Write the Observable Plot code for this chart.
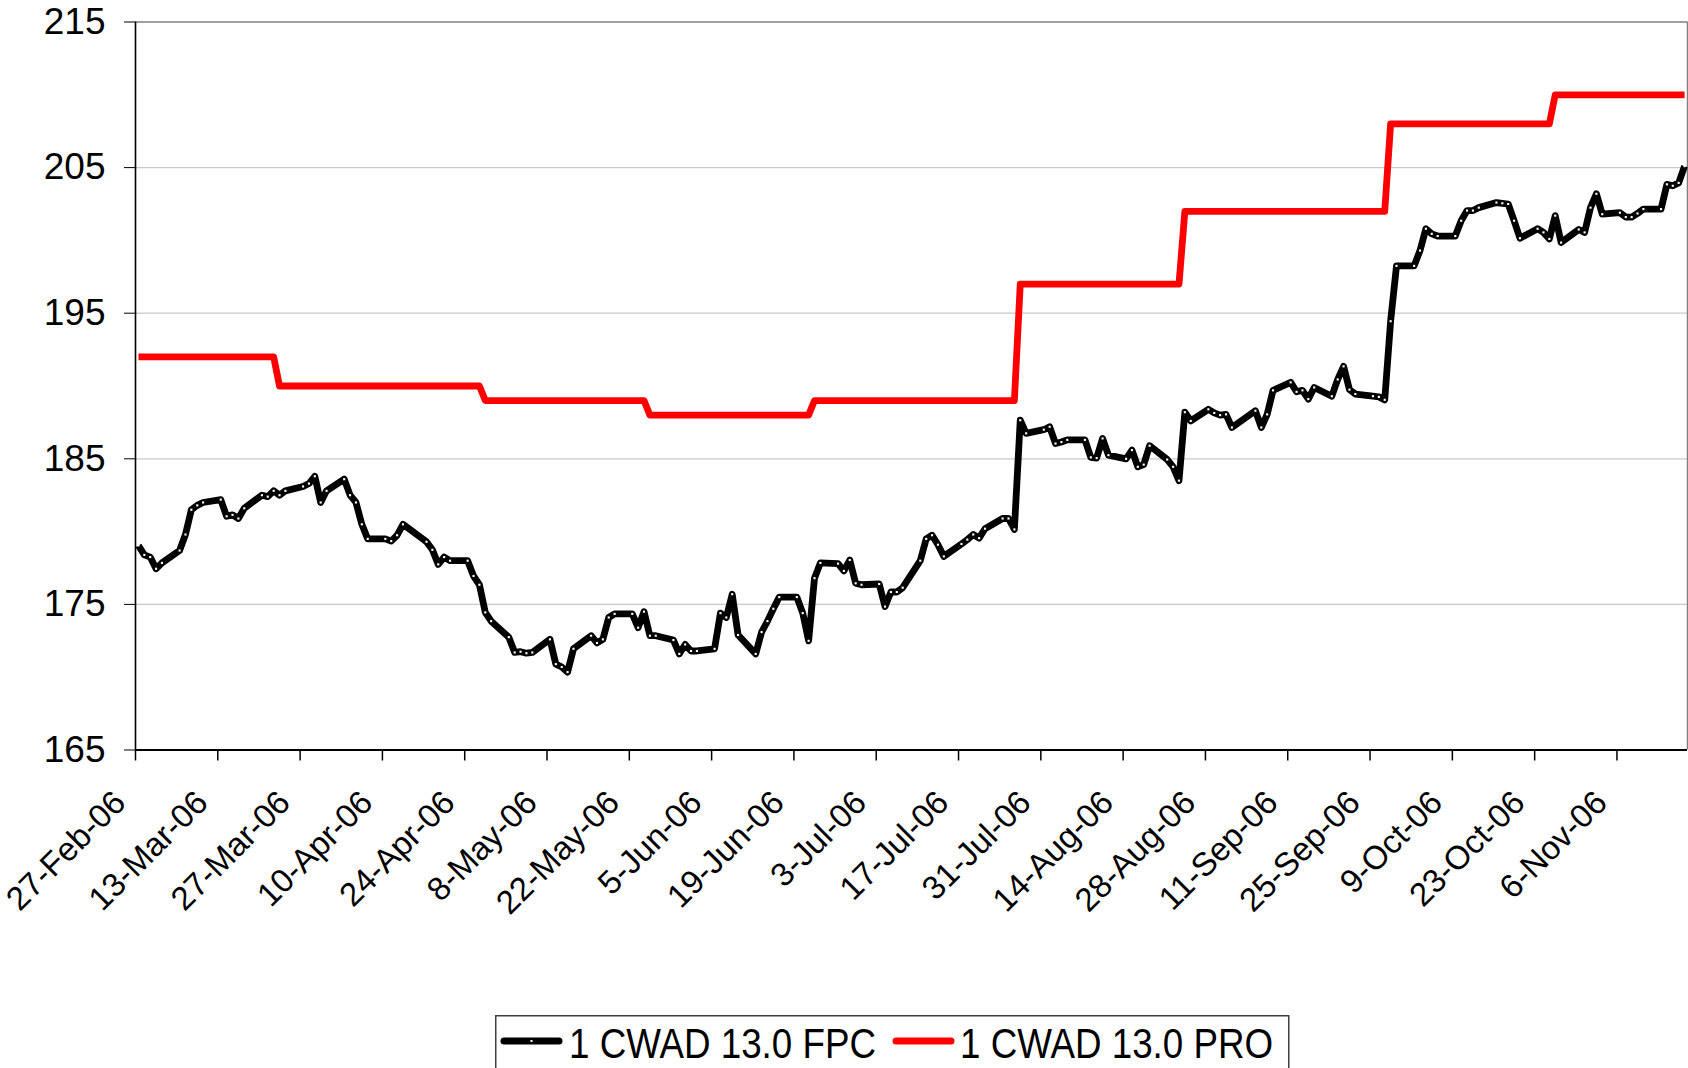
<!DOCTYPE html>
<html>
<head>
<meta charset="utf-8">
<script src="https://cdn.jsdelivr.net/npm/d3@7"></script>
<script src="https://cdn.jsdelivr.net/npm/@observablehq/plot@0.6"></script>
<style>
html,body{margin:0;padding:0;background:#fff;}
body{width:1688px;height:1068px;overflow:hidden;position:relative;font-family:"Liberation Sans",Arial,sans-serif;}
#chart{position:absolute;left:0;top:0;}
#legend{position:absolute;left:495px;top:1015px;}
</style>
</head>
<body>
<div id="chart"></div>
<div id="legend"></div>
<script>
// ---- data ----
const dates = [
"2006-02-27","2006-02-28","2006-03-01","2006-03-02","2006-03-03",
"2006-03-06","2006-03-07","2006-03-08","2006-03-09","2006-03-10",
"2006-03-13","2006-03-14","2006-03-15","2006-03-16","2006-03-17",
"2006-03-20","2006-03-21","2006-03-22","2006-03-23","2006-03-24",
"2006-03-27","2006-03-28","2006-03-29","2006-03-30","2006-03-31",
"2006-04-03","2006-04-04","2006-04-05","2006-04-06","2006-04-07",
"2006-04-10","2006-04-11","2006-04-12","2006-04-13",
"2006-04-17","2006-04-18","2006-04-19","2006-04-20","2006-04-21",
"2006-04-24","2006-04-25","2006-04-26","2006-04-27","2006-04-28",
"2006-05-01","2006-05-02","2006-05-03","2006-05-04","2006-05-05",
"2006-05-08","2006-05-09","2006-05-10","2006-05-11","2006-05-12",
"2006-05-15","2006-05-16","2006-05-17","2006-05-18","2006-05-19",
"2006-05-22","2006-05-23","2006-05-24","2006-05-25","2006-05-26",
"2006-05-29","2006-05-30","2006-05-31","2006-06-01","2006-06-02",
"2006-06-05","2006-06-06","2006-06-07","2006-06-08","2006-06-09",
"2006-06-12","2006-06-13","2006-06-14","2006-06-15","2006-06-16",
"2006-06-19","2006-06-20","2006-06-21","2006-06-22","2006-06-23",
"2006-06-26","2006-06-27","2006-06-28","2006-06-29","2006-06-30",
"2006-07-03","2006-07-04","2006-07-05","2006-07-06","2006-07-07",
"2006-07-10","2006-07-11","2006-07-12","2006-07-13","2006-07-14",
"2006-07-17","2006-07-18","2006-07-19","2006-07-20","2006-07-21",
"2006-07-24","2006-07-25","2006-07-26","2006-07-27","2006-07-28",
"2006-07-31","2006-08-01","2006-08-02","2006-08-03","2006-08-04",
"2006-08-07","2006-08-08","2006-08-09","2006-08-10","2006-08-11",
"2006-08-14","2006-08-15","2006-08-16","2006-08-17","2006-08-18",
"2006-08-21","2006-08-22","2006-08-23","2006-08-24","2006-08-25",
"2006-08-28","2006-08-29","2006-08-30","2006-08-31","2006-09-01",
"2006-09-05","2006-09-06","2006-09-07","2006-09-08",
"2006-09-11","2006-09-12","2006-09-13","2006-09-14","2006-09-15",
"2006-09-18","2006-09-19","2006-09-20","2006-09-21","2006-09-22",
"2006-09-25","2006-09-26","2006-09-27","2006-09-28","2006-09-29",
"2006-10-02","2006-10-03","2006-10-04","2006-10-05","2006-10-06",
"2006-10-09","2006-10-10","2006-10-11","2006-10-12","2006-10-13",
"2006-10-16","2006-10-17","2006-10-18","2006-10-19","2006-10-20",
"2006-10-23","2006-10-24","2006-10-25","2006-10-26","2006-10-27",
"2006-10-30","2006-10-31","2006-11-01","2006-11-02","2006-11-03",
"2006-11-06","2006-11-07","2006-11-08","2006-11-09","2006-11-10",
"2006-11-13","2006-11-14","2006-11-15","2006-11-16","2006-11-17"
];

const fpc = [
179.05,178.4,178.25,177.45,177.85,
178.7,179.8,181.5,181.8,182.0,
182.2,181.05,181.15,180.9,181.6,
182.5,182.4,182.8,182.5,182.8,
183.1,183.3,183.8,182.0,182.8,
183.6,182.5,182.0,180.5,179.5,
179.5,179.35,179.75,180.5,
179.3,178.75,177.75,178.25,178.0,
178.0,176.95,176.35,174.45,173.85,
172.75,171.7,171.75,171.65,171.7,
172.6,170.9,170.7,170.35,171.95,
172.85,172.35,172.6,174.1,174.35,
174.35,173.4,174.5,172.85,172.85,
172.55,171.6,172.25,171.8,171.8,
171.95,174.4,174.1,175.7,172.9,
171.6,173.1,173.85,174.7,175.5,
175.5,174.4,172.5,176.8,177.85,
177.8,177.3,178.05,176.45,176.35,
176.4,174.85,175.85,175.85,176.15,
178.0,179.5,179.75,179.1,178.3,
179.15,179.45,179.8,179.55,180.2,
180.9,180.9,180.15,187.65,186.75,
187.0,187.2,186.05,186.15,186.3,
186.3,185.1,185.05,186.4,185.25,
185.0,185.6,184.45,184.6,185.9,
184.95,184.45,183.5,188.2,187.6,
188.4,188.15,188.0,188.05,187.15,
188.3,187.15,188.05,189.7,
190.25,189.6,189.7,189.1,189.9,
189.3,190.45,191.35,189.75,189.45,
189.3,189.25,189.05,194.45,198.25,
198.25,199.3,200.8,200.45,200.3,
200.3,201.35,202.05,202.05,202.25,
202.6,202.55,202.5,201.35,200.15,
200.8,200.55,200.1,201.7,199.85,
200.75,200.55,202.25,203.2,201.8,
201.9,201.6,201.6,201.85,202.15,
202.15,203.85,203.75,203.95,205.1
];

const pro = [
192,192,192,192,192,
192,192,192,192,192,
192,192,192,192,192,
192,192,192,190,190,
190,190,190,190,190,
190,190,190,190,190,
190,190,190,190,
190,190,190,190,190,
190,190,190,189,189,
189,189,189,189,189,
189,189,189,189,189,
189,189,189,189,189,
189,189,189,188,188,
188,188,188,188,188,
188,188,188,188,188,
188,188,188,188,188,
188,188,188,189,189,
189,189,189,189,189,
189,189,189,189,189,
189,189,189,189,189,
189,189,189,189,189,
189,189,189,197,197,
197,197,197,197,197,
197,197,197,197,197,
197,197,197,197,197,
197,197,197,202,202,
202,202,202,202,202,
202,202,202,202,
202,202,202,202,202,
202,202,202,202,202,
202,202,202,208,208,
208,208,208,208,208,
208,208,208,208,208,
208,208,208,208,208,
208,208,208,210,210,
210,210,210,210,210,
210,210,210,210,210,
210,210,210,210,210
];

const seriesNames = ["1 CWAD 13.0 FPC", "1 CWAD 13.0 PRO"];
const seriesColors = ["#000000", "#ff0000"];

const tickDates = [
"2006-02-27","2006-03-13","2006-03-27","2006-04-10","2006-04-24","2006-05-08",
"2006-05-22","2006-06-05","2006-06-19","2006-07-03","2006-07-17","2006-07-31",
"2006-08-14","2006-08-28","2006-09-11","2006-09-25","2006-10-09","2006-10-23","2006-11-06"
];
const tickLabels = [
"27-Feb-06","13-Mar-06","27-Mar-06","10-Apr-06","24-Apr-06","8-May-06",
"22-May-06","5-Jun-06","19-Jun-06","3-Jul-06","17-Jul-06","31-Jul-06",
"14-Aug-06","28-Aug-06","11-Sep-06","25-Sep-06","9-Oct-06","23-Oct-06","6-Nov-06"
];
const yTicks = [165, 175, 185, 195, 205, 215];
const gridValues = [175, 185, 195, 205];
const xStart = "2006-02-27";
const xEnd = "2006-11-18";

// ---- build ----
const rows = dates.map((d, i) => ({date: new Date(d + "T12:00:00Z"), fpc: fpc[i], pro: pro[i]}));
const ticks = tickDates.map(d => new Date(d + "T00:00:00Z"));
const x0 = new Date(xStart + "T00:00:00Z");
const x1 = new Date(xEnd + "T00:00:00Z");

const chart = Plot.plot({
  width: 1688,
  height: 1000,
  marginLeft: 135,
  marginRight: 1,
  marginTop: 21.5,
  marginBottom: 250.5,
  x: {type: "utc", domain: [x0, x1], axis: null},
  y: {domain: [165, 215], axis: null},
  style: {fontFamily: "'Liberation Sans', Arial, sans-serif", background: "white", overflow: "visible", color: "#000"},
  marks: [
    Plot.ruleY(gridValues, {stroke: "#c8c8c8", strokeWidth: 1.2}),
    Plot.ruleY([215], {stroke: "#808080", strokeWidth: 1.5}),
    Plot.ruleX([x1], {stroke: "#808080", strokeWidth: 1.5}),
    Plot.lineY(rows, {x: "date", y: "pro", stroke: seriesColors[1], strokeWidth: 6.8, strokeLinejoin: "round", strokeLinecap: "butt"}),
    Plot.lineY(rows, {x: "date", y: "fpc", stroke: seriesColors[0], strokeWidth: 6.8, strokeLinejoin: "round", strokeLinecap: "butt"}),
    Plot.dot(rows, {x: "date", y: "fpc", symbol: "square", r: 1.2, fill: "white", stroke: "none"}),
    Plot.ruleX([x0], {stroke: "#000", strokeWidth: 1.6}),
    Plot.ruleY([165], {stroke: "#000", strokeWidth: 2}),
    Plot.axisY(yTicks, {tickSize: 11, tickPadding: 19, fontSize: 37, label: null, stroke: "#000"}),
    Plot.tickX(ticks, {x: d => d, stroke: "#000", strokeWidth: 1.5, insetTop: 728, insetBottom: -11}),
    Plot.text(ticks, {
      x: d => d,
      text: (d, i) => tickLabels[i],
      frameAnchor: "bottom",
      rotate: -45,
      textAnchor: "end",
      lineAnchor: "bottom",
      dx: -8,
      dy: 54.5,
      fontSize: 33,
      fill: "#000"
    })
  ]
});
document.getElementById("chart").appendChild(chart);

// ---- legend ----
const lg = d3.select("#legend").append("svg")
  .attr("width", 796).attr("height", 70)
  .style("display", "block");
lg.append("rect")
  .attr("x", 0.75).attr("y", 0.75).attr("width", 793).attr("height", 80)
  .attr("fill", "white").attr("stroke", "#404040").attr("stroke-width", 1.5);
const items = [
  {name: seriesNames[0], color: seriesColors[0], x1: 9, x2: 64, tx: 74, marker: true},
  {name: seriesNames[1], color: seriesColors[1], x1: 401, x2: 456, tx: 465, marker: false}
];
items.forEach(it => {
  lg.append("line")
    .attr("x1", it.x1).attr("x2", it.x2).attr("y1", 26).attr("y2", 26)
    .attr("stroke", it.color).attr("stroke-width", 7).attr("stroke-linecap", "round");
  if (it.marker) {
    lg.append("rect").attr("x", (it.x1 + it.x2) / 2 - 1).attr("y", 25).attr("width", 2).attr("height", 2).attr("fill", "white");
  }
  lg.append("text")
    .attr("transform", `translate(${it.tx},43) scale(0.875,1)`)
    .attr("font-family", "'Liberation Sans', Arial, sans-serif")
    .attr("font-size", 42)
    .attr("fill", "#000")
    .text(it.name);
});
</script>
</body>
</html>
